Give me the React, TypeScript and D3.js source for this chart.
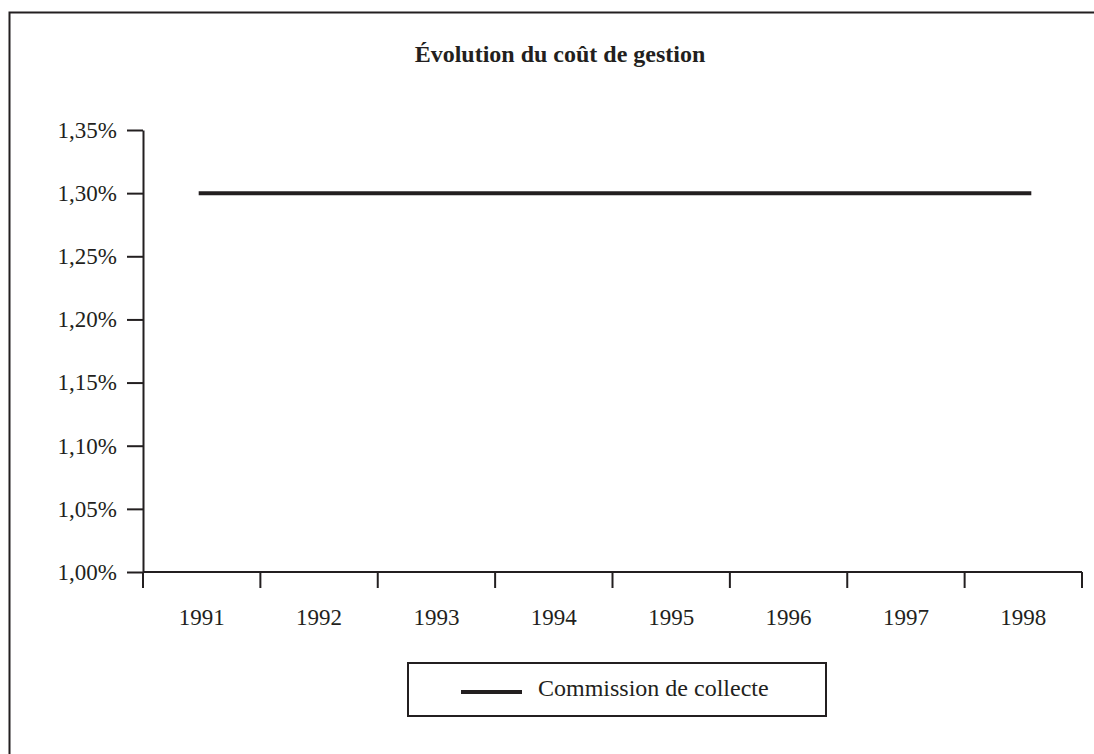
import React, { useEffect, useRef } from 'react';
import * as d3 from 'd3';

const years = ['1991', '1992', '1993', '1994', '1995', '1996', '1997', '1998'];
const commission = [1.3, 1.3, 1.3, 1.3, 1.3, 1.3, 1.3, 1.3];
const yTicks = [1.0, 1.05, 1.1, 1.15, 1.2, 1.25, 1.3, 1.35];
const seriesName = 'Commission de collecte';
const title = 'Évolution du coût de gestion';

const App: React.FC = () => {
  const svgRef = useRef<SVGSVGElement>(null);

  useEffect(() => {
    if (!svgRef.current) return;
    const svg = d3.select(svgRef.current);
    svg.selectAll('*').remove();

    const font = '"Liberation Serif", "DejaVu Serif", serif';
    const ink = '#231f20';
    const left = 143, right = 1082, top = 130, bottom = 572;

    // outer frame
    svg.append('rect')
      .attr('x', 9.5).attr('y', 12.5)
      .attr('width', 1100).attr('height', 760)
      .attr('fill', 'white')
      .attr('stroke', ink).attr('stroke-width', 2);

    svg.append('text')
      .attr('x', 560).attr('y', 62)
      .attr('text-anchor', 'middle')
      .style('font-family', font)
      .style('font-size', '24px')
      .style('font-weight', 'bold')
      .style('fill', ink)
      .text(title);

    const x = d3.scaleBand().domain(years).range([left, right]);
    const y = d3.scaleLinear().domain([1.0, 1.35]).range([bottom, top]);

    // y axis
    const yAxis = svg.append('g')
      .attr('transform', `translate(${left},0)`)
      .call(d3.axisLeft(y).tickValues(yTicks).tickSize(16).tickSizeOuter(0)
        .tickFormat(d => (d as number).toFixed(2).replace('.', ',') + '%'));
    yAxis.select('.domain').attr('stroke', ink).attr('stroke-width', 2);
    yAxis.selectAll('.tick line').attr('stroke', ink).attr('stroke-width', 2);
    yAxis.selectAll('.tick text')
      .attr('x', -26)
      .style('font-family', font).style('font-size', '23px').style('fill', ink);

    // x axis: ticks at band boundaries
    const xAxis = svg.append('g').attr('transform', `translate(0,${bottom})`);
    xAxis.append('line')
      .attr('x1', left).attr('x2', right)
      .attr('stroke', ink).attr('stroke-width', 2);
    const bounds = years.map(d => x(d) as number).concat([right]);
    xAxis.selectAll('line.tk')
      .data(bounds)
      .enter().append('line')
      .attr('class', 'tk')
      .attr('x1', d => d).attr('x2', d => d)
      .attr('y1', 0).attr('y2', 16)
      .attr('stroke', ink).attr('stroke-width', 2);
    xAxis.selectAll('text')
      .data(years)
      .enter().append('text')
      .attr('x', d => (x(d) as number) + x.bandwidth() / 2)
      .attr('y', 53)
      .attr('text-anchor', 'middle')
      .style('font-family', font).style('font-size', '23px').style('fill', ink)
      .text(d => d);

    // series line
    const line = d3.line<number>()
      .x((_, i) => (x(years[i]) as number) + x.bandwidth() / 2 + (i === years.length - 1 ? 8 : i === 0 ? -3 : 0))
      .y(d => y(d));
    svg.append('path')
      .datum(commission)
      .attr('d', line)
      .attr('fill', 'none')
      .attr('stroke', ink)
      .attr('stroke-width', 4);

    // legend
    const lg = svg.append('g').attr('transform', 'translate(408,663)');
    lg.append('rect')
      .attr('width', 418).attr('height', 53)
      .attr('fill', 'white')
      .attr('stroke', ink).attr('stroke-width', 2);
    lg.append('line')
      .attr('x1', 53).attr('x2', 114)
      .attr('y1', 29).attr('y2', 29)
      .attr('stroke', ink).attr('stroke-width', 4);
    lg.append('text')
      .attr('x', 130).attr('y', 33)
      .style('font-family', font).style('font-size', '24px').style('fill', ink)
      .text(seriesName);
  }, []);

  return (
    <svg
      ref={svgRef}
      width={1094}
      height={754}
      style={{ position: 'absolute', left: 0, top: 0, background: 'white' }}
    />
  );
};

export default App;
